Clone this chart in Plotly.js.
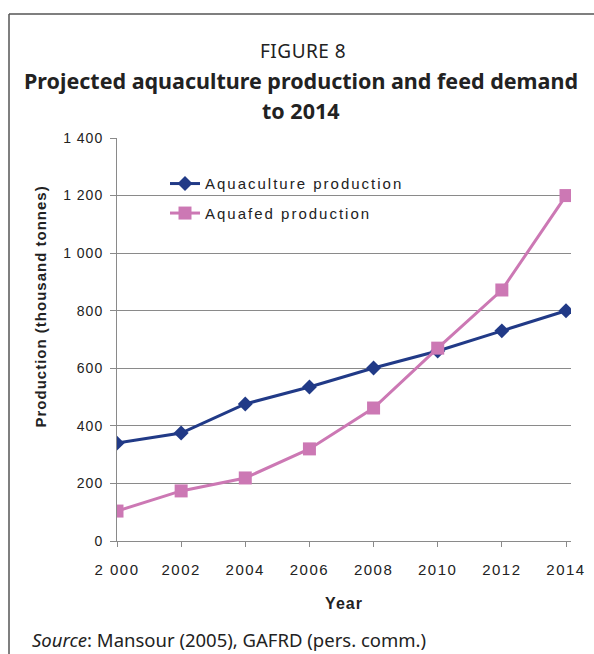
<!DOCTYPE html>
<html>
<head>
<meta charset="utf-8">
<script src="https://cdn.plot.ly/plotly-3.0.1.min.js"></script>
<style>
  html, body { margin: 0; padding: 0; background: #fff; }
  #chart { width: 594px; height: 654px; }
  .xtick text { letter-spacing: 1.5px; }
  .ytick text { letter-spacing: 1px; }
  .legend text { letter-spacing: 2px !important; }
  .g-xtitle text { letter-spacing: 1px; }
  g.annotation[data-index="0"] text { letter-spacing: 0.5px; }
  g.annotation[data-index="4"] text { letter-spacing: 1px; }
</style>
</head>
<body>
<div id="chart"></div>
<script>
// ---- data ----
const years = [2000, 2002, 2004, 2006, 2008, 2010, 2012, 2014];
const yearLabels = ['2 000', '2002', '2004', '2006', '2008', '2010', '2012', '2014'];
const aquacultureProduction = [340, 375, 476, 535, 601, 660, 730, 800];
const aquafeedProduction = [104, 174, 219, 320, 462, 670, 872, 1200];
const yTicks = [0, 200, 400, 600, 800, 1000, 1200, 1400];
const yTickLabels = ['0', '200', '400', '600', '800', '1 000', '1 200', '1 400'];
const seriesNames = ['Aquaculture production', 'Aquafed production'];

const navy = '#213A87';
const pink = '#CC78B4';
const grid = '#8a8a8a';
const ink = '#222222';
const arial = 'Liberation Sans, Arial, sans-serif';
const sans = 'Noto Sans, Open Sans, sans-serif';

const traces = [
  {
    x: years, y: aquacultureProduction, name: seriesNames[0],
    type: 'scatter', mode: 'lines+markers', legendgroup: 'a',
    line: { color: navy, width: 3 },
    marker: { symbol: 'diamond', size: 11.5, color: navy }
  },
  {
    x: years, y: aquafeedProduction, name: seriesNames[1],
    type: 'scatter', mode: 'lines+markers', legendgroup: 'b',
    line: { color: pink, width: 3 },
    marker: { symbol: 'square', size: 13, color: pink }
  }
];

// plot area: x 117..571 px, y 138..541 px
const px = v => (v - 117) / 454;
const py = v => (541 - v) / 403;

const layout = {
  width: 594, height: 654,
  margin: { l: 117, r: 23, t: 138, b: 113, pad: 0 },
  paper_bgcolor: '#ffffff', plot_bgcolor: '#ffffff',
  showlegend: true,
  xaxis: {
    range: [2000, 2014.156],
    tickmode: 'array', tickvals: years, ticktext: yearLabels,
    ticks: 'outside', ticklen: 5, tickwidth: 1, tickcolor: grid,
    showgrid: false, zeroline: false,
    showline: true, linecolor: grid, linewidth: 1,
    tickfont: { family: arial, size: 15, color: ink },
    ticklabelstandoff: 10,
    title: { text: '<b>Year</b>', font: { family: arial, size: 16, color: ink }, standoff: 20 }
  },
  yaxis: {
    range: [0, 1400],
    tickmode: 'array', tickvals: yTicks, ticktext: yTickLabels,
    ticks: 'outside', ticklen: 6, tickwidth: 1, tickcolor: grid,
    showgrid: true, gridcolor: grid, gridwidth: 1,
    zeroline: false,
    showline: true, linecolor: grid, linewidth: 1,
    tickfont: { family: arial, size: 14, color: ink },
    ticklabelstandoff: 4
  },
  legend: {
    x: px(165), y: py(198.3), xanchor: 'left', yanchor: 'middle',
    traceorder: 'grouped', tracegroupgap: 7,
    bgcolor: 'rgba(0,0,0,0)', borderwidth: 0,
    font: { family: arial, size: 15, color: ink }
  },
  annotations: [
    { text: 'FIGURE 8', xref: 'paper', yref: 'paper', x: px(302.5), y: py(50.5),
      xanchor: 'center', yanchor: 'middle', showarrow: false,
      font: { family: sans, size: 19, color: ink } },
    { text: '<b>Projected aquaculture production and feed demand</b>', xref: 'paper', yref: 'paper',
      x: px(301), y: py(80.5), xanchor: 'center', yanchor: 'middle', showarrow: false,
      font: { family: sans, size: 21.5, color: ink } },
    { text: '<b>to 2014</b>', xref: 'paper', yref: 'paper',
      x: px(301), y: py(110.5), xanchor: 'center', yanchor: 'middle', showarrow: false,
      font: { family: sans, size: 21.5, color: ink } },
    { text: '<i>Source</i>: Mansour (2005), GAFRD (pers. comm.)', xref: 'paper', yref: 'paper',
      x: px(30), y: py(654), xanchor: 'left', yanchor: 'bottom', showarrow: false,
      font: { family: sans, size: 18.5, color: ink } },
    { text: '<b>Production (thousand tonnes)</b>', xref: 'paper', yref: 'paper',
      x: px(40), y: py(306.5), xanchor: 'center', yanchor: 'middle', showarrow: false,
      textangle: -90, font: { family: arial, size: 15, color: ink } }
  ],
  shapes: [
    { type: 'line', xref: 'paper', yref: 'paper', x0: px(9), x1: px(9), y0: py(14), y1: py(660),
      line: { color: '#555555', width: 1.5 } },
    { type: 'line', xref: 'paper', yref: 'paper', x0: px(9), x1: px(600), y0: py(14), y1: py(14),
      line: { color: '#555555', width: 1.5 } }
  ]
};

Plotly.newPlot('chart', traces, layout, { displayModeBar: false, staticPlot: true }).then(() => {
  document.querySelectorAll('.legend text').forEach(t => { t.style.letterSpacing = '2px'; });
  document.querySelectorAll('.legend .scrollbox, .legend').forEach(s => s.removeAttribute('clip-path'));
  document.querySelectorAll('.legend [clip-path]').forEach(s => s.removeAttribute('clip-path'));
});
</script>
</body>
</html>
